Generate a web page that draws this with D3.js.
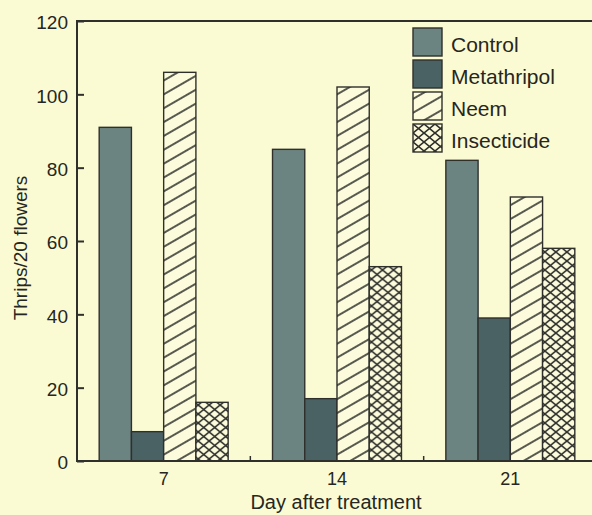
<!DOCTYPE html>
<html>
<head>
<meta charset="utf-8">
<script src="https://cdn.jsdelivr.net/npm/d3@7"></script>
<style>
  html, body { margin: 0; padding: 0; background: #fbfbd3; }
  svg { display: block; }
  text { font-family: "Liberation Sans", Arial, sans-serif; fill: #262622; }
</style>
</head>
<body>
<svg id="chart"></svg>
<script>
// data
var days = ["7", "14", "21"];
var seriesNames = ["Control", "Metathripol", "Neem", "Insecticide"];
var control = [91, 85, 82];
var metathripol = [8, 17, 39];
var neem = [106, 102, 72];
var insecticide = [16, 53, 58];
var yTicks = [0, 20, 40, 60, 80, 100, 120];

var width = 592, height = 515;
var plotLeft = 77, plotTop = 21, plotBottom = 461;
var ink = "#2f302c";

var svg = d3.select("#chart").attr("width", width).attr("height", height);

// fills: solid greys and two hatch patterns
var defs = svg.append("defs");
var hatch = defs.append("pattern")
    .attr("id", "hatch")
    .attr("patternUnits", "userSpaceOnUse")
    .attr("width", 10).attr("height", 12)
    .attr("patternTransform", "rotate(-30)");
hatch.append("rect").attr("width", 10).attr("height", 12).attr("fill", "#fcfcdc");
hatch.append("line").attr("x1", 0).attr("x2", 10).attr("y1", 6).attr("y2", 6)
    .attr("stroke", ink).attr("stroke-width", 1.6);

var cross = defs.append("pattern")
    .attr("id", "cross")
    .attr("patternUnits", "userSpaceOnUse")
    .attr("width", 11).attr("height", 9);
cross.append("rect").attr("width", 11).attr("height", 9).attr("fill", "#fcfcdc");
cross.append("path").attr("d", "M0,0L11,9M11,0L0,9")
    .attr("stroke", ink).attr("stroke-width", 1.6);

var fills = {
  "Control": "#6c8481",
  "Metathripol": "#4b6264",
  "Neem": "url(#hatch)",
  "Insecticide": "url(#cross)"
};

var values = { "Control": control, "Metathripol": metathripol, "Neem": neem, "Insecticide": insecticide };
var rows = days.map(function(d, i) {
  var r = { day: d };
  seriesNames.forEach(function(s) { r[s] = values[s][i]; });
  return r;
});

var x0 = d3.scaleBand().domain(days).range([plotLeft, 597]).paddingInner(0.256).paddingOuter(0.128);
var x1 = d3.scaleBand().domain(seriesNames).range([0, x0.bandwidth()]);
var y = d3.scaleLinear().domain([0, 120]).range([plotBottom, plotTop]);

// bars
svg.append("g")
  .selectAll("g")
  .data(rows)
  .join("g")
    .attr("transform", function(d) { return "translate(" + x0(d.day) + ",0)"; })
  .selectAll("rect")
  .data(function(d) { return seriesNames.map(function(k) { return { key: k, value: d[k] }; }); })
  .join("rect")
    .attr("x", function(d) { return x1(d.key); })
    .attr("y", function(d) { return y(d.value); })
    .attr("width", x1.bandwidth())
    .attr("height", function(d) { return y(0) - y(d.value); })
    .attr("fill", function(d) { return fills[d.key]; })
    .attr("stroke", ink)
    .attr("stroke-width", 1.4);

// y axis, ticks pointing inward
var yAxis = svg.append("g")
    .attr("transform", "translate(" + plotLeft + ",0)")
    .call(d3.axisRight(y).tickValues(yTicks).tickSize(7).tickFormat(d3.format("d")));
yAxis.select(".domain").remove();
yAxis.selectAll("line").attr("stroke", ink).attr("stroke-width", 2);
yAxis.selectAll("text")
    .attr("x", -9).attr("dy", "0.42em")
    .attr("text-anchor", "end")
    .style("font-size", "19px");

// x axis: labels at group centres, small ticks between groups
var xAxis = svg.append("g")
    .attr("transform", "translate(0," + plotBottom + ")")
    .call(d3.axisBottom(x0).tickSize(0).tickPadding(11));
xAxis.select(".domain").remove();
xAxis.selectAll("text").style("font-size", "18px");

var step = x0.step();
var between = days.slice(1).map(function(d) { return x0(d) - step * x0.paddingInner() / 2; });
svg.append("g").selectAll("line")
  .data(between)
  .join("line")
    .attr("x1", function(d) { return d; }).attr("x2", function(d) { return d; })
    .attr("y1", plotBottom).attr("y2", plotBottom - 5)
    .attr("stroke", ink).attr("stroke-width", 1.5);

// frame: left, bottom and top lines (right side runs off the page)
svg.append("path")
    .attr("d", "M" + width + "," + plotTop + "H" + plotLeft + "V" + plotBottom + "H" + width)
    .attr("fill", "none")
    .attr("stroke", ink)
    .attr("stroke-width", 2);

// axis titles
svg.append("text")
    .attr("x", 336)
    .attr("y", 502)
    .attr("dy", "0.35em")
    .attr("text-anchor", "middle")
    .style("font-size", "20px")
    .text("Day after treatment");

svg.append("text")
    .attr("transform", "translate(20,248) rotate(-90)")
    .attr("dy", "0.35em")
    .attr("text-anchor", "middle")
    .style("font-size", "19px")
    .text("Thrips/20 flowers");

// legend
var legend = svg.append("g")
  .selectAll("g")
  .data(seriesNames)
  .join("g")
    .attr("transform", function(d, i) { return "translate(413," + (28 + i * 32) + ")"; });
legend.append("rect")
    .attr("width", 29).attr("height", 28)
    .attr("fill", function(d) { return fills[d]; })
    .attr("stroke", ink)
    .attr("stroke-width", 1.4);
legend.append("text")
    .attr("x", 38).attr("y", 16).attr("dy", "0.36em")
    .style("font-size", "21px")
    .text(function(d) { return d; });
</script>
</body>
</html>
